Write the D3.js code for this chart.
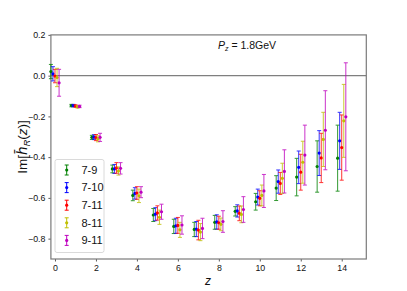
<!DOCTYPE html>
<html><head><meta charset="utf-8">
<script src="https://cdn.jsdelivr.net/npm/d3@7"></script>
<style>body{margin:0;background:#fff}svg{display:block}text{font-family:"Liberation Sans","DejaVu Sans",sans-serif}</style>
</head><body><svg id="c" width="407" height="291"></svg>
<script>
const zs = [0,1,2,3,4,5,6,7,8,9,10,11,12,13,14];
const seriesNames = ["7-9","7-10","7-11","8-11","9-11"];
const seriesColors = ["#008000","#0000ff","#ff0000","#bfbf00","#bf00bf"];
const seriesOffsets = [-0.2,-0.1,0,0.1,0.2];
const v79  = [0.02,-0.147,-0.303,-0.458,-0.588,-0.684,-0.740,-0.755,-0.720,-0.666,-0.619,-0.552,-0.498,-0.446,-0.405];
const e79  = [0.035,0.006,0.010,0.019,0.026,0.032,0.035,0.035,0.034,0.023,0.041,0.061,0.092,0.126,0.162];
const v710 = [0.009,-0.147,-0.302,-0.458,-0.578,-0.680,-0.737,-0.753,-0.718,-0.664,-0.596,-0.520,-0.450,-0.380,-0.320];
const e710 = [0.035,0.006,0.012,0.022,0.028,0.032,0.037,0.037,0.035,0.030,0.039,0.057,0.080,0.110,0.140];
const v711 = [-0.002,-0.149,-0.304,-0.453,-0.576,-0.674,-0.735,-0.758,-0.722,-0.676,-0.602,-0.529,-0.474,-0.404,-0.353];
const e711 = [0.033,0.006,0.015,0.026,0.031,0.035,0.039,0.048,0.032,0.036,0.037,0.054,0.088,0.121,0.160];
const v811 = [-0.009,-0.153,-0.310,-0.468,-0.590,-0.695,-0.757,-0.768,-0.730,-0.681,-0.588,-0.504,-0.425,-0.313,-0.222];
const e811 = [0.045,0.006,0.015,0.020,0.033,0.035,0.037,0.042,0.031,0.041,0.051,0.074,0.103,0.133,0.179];
const v911 = [-0.035,-0.151,-0.303,-0.455,-0.572,-0.668,-0.733,-0.750,-0.716,-0.657,-0.566,-0.470,-0.390,-0.268,-0.202];
const e911 = [0.066,0.006,0.020,0.028,0.027,0.037,0.045,0.050,0.053,0.063,0.081,0.106,0.147,0.194,0.265];
const xTicks = [0,2,4,6,8,10,12,14];
const yTicks = [0.2,0.0,-0.2,-0.4,-0.6,-0.8];

const values = [v79,v710,v711,v811,v911];
const errors = [e79,e710,e711,e811,e911];

const svg = d3.select("#c");
const L=50.9,R=366.3,T=34.9,B=259;
const x = d3.scaleLinear().domain([-0.2,15.2]).range([L,R]);
const y = d3.scaleLinear().domain([-0.9,0.2]).range([B,T]);

// zero line
svg.append("line").attr("x1",L).attr("x2",R).attr("y1",y(0)).attr("y2",y(0))
  .attr("stroke","#7f7f7f").attr("stroke-width",1.4);

const fmtY = d => d3.format(".1f")(d).replace("-","\u2212");
const xAxis = svg.append("g").attr("transform",`translate(0,${B})`)
  .call(d3.axisBottom(x).tickValues(xTicks).tickSize(2.5).tickPadding(3).tickFormat(d3.format("d")));
const yAxis = svg.append("g").attr("transform",`translate(${L},0)`)
  .call(d3.axisLeft(y).tickValues(yTicks).tickSize(2.5).tickPadding(3).tickFormat(fmtY));
[xAxis,yAxis].forEach(g=>{
  g.select(".domain").remove();
  g.selectAll("line").attr("stroke","#333").attr("stroke-width",0.8);
  g.selectAll("text").attr("font-size",8.8).attr("fill","#111")
   .style("font-family","'Liberation Sans','DejaVu Sans',sans-serif");
});

// frame
svg.append("rect").attr("x",L).attr("y",T).attr("width",R-L).attr("height",B-T)
  .attr("fill","none").attr("stroke","#7a7a7a").attr("stroke-width",1.2);

// data
const cap = 2;
values.forEach((vals,si)=>{
  const g = svg.append("g").attr("stroke",seriesColors[si]).attr("fill",seriesColors[si]);
  zs.forEach((z,i)=>{
    const cx = x(z+seriesOffsets[si]);
    const v = vals[i], e = errors[si][i];
    const gg = g.append("g").attr("opacity",0.8);
    gg.append("line").attr("x1",cx).attr("x2",cx).attr("y1",y(v+e)).attr("y2",y(v-e)).attr("stroke-width",1);
    gg.append("line").attr("x1",cx-cap).attr("x2",cx+cap).attr("y1",y(v+e)).attr("y2",y(v+e)).attr("stroke-width",1);
    gg.append("line").attr("x1",cx-cap).attr("x2",cx+cap).attr("y1",y(v-e)).attr("y2",y(v-e)).attr("stroke-width",1);
    g.append("circle").attr("cx",cx).attr("cy",y(v)).attr("r",1.6).attr("stroke","none");
  });
});

// legend
const lg = svg.append("g");
lg.append("rect").attr("x",55).attr("y",159.5).attr("width",49).attr("height",93).attr("rx",2)
  .attr("fill","#fff").attr("fill-opacity",0.8).attr("stroke","#d0d0d0").attr("stroke-width",0.8);
seriesNames.forEach((n,i)=>{
  const cy = 170 + i*17.6, cx = 66.7, c = seriesColors[i];
  lg.append("line").attr("x1",cx).attr("x2",cx).attr("y1",cy-5).attr("y2",cy+5).attr("stroke",c).attr("stroke-width",1);
  lg.append("line").attr("x1",cx-2).attr("x2",cx+2).attr("y1",cy-5).attr("y2",cy-5).attr("stroke",c).attr("stroke-width",1);
  lg.append("line").attr("x1",cx-2).attr("x2",cx+2).attr("y1",cy+5).attr("y2",cy+5).attr("stroke",c).attr("stroke-width",1);
  lg.append("circle").attr("cx",cx).attr("cy",cy).attr("r",1.6).attr("fill",c);
  lg.append("text").attr("x",81.5).attr("y",cy+3.8).attr("font-size",11).attr("fill","#111").text(n);
});

// title
const t = svg.append("text").attr("x",218).attr("y",48.5).attr("font-size",10.5).attr("fill","#111");
t.append("tspan").attr("font-style","italic").text("P");
t.append("tspan").attr("font-size",7).attr("dy",2).attr("font-style","italic").text("z");
t.append("tspan").attr("dy",-2).text(" = 1.8GeV");

// axis labels
svg.append("text").attr("x",208).attr("y",285).attr("text-anchor","middle")
  .attr("font-size",12).attr("font-style","italic").attr("fill","#111").text("z");
const yl = svg.append("text").attr("transform","translate(27,147) rotate(-90)").attr("text-anchor","middle")
  .attr("font-size",13.5).attr("fill","#111");
yl.append("tspan").text("Im[");
yl.append("tspan").attr("font-style","italic").style("font-family","'DejaVu Sans',sans-serif").text("h\u0304");
yl.append("tspan").attr("font-style","italic").attr("font-size",9).attr("dy",2.5).text("R");
yl.append("tspan").attr("dy",-2.5).text("(");
yl.append("tspan").attr("font-style","italic").text("z");
yl.append("tspan").text(")]");
</script></body></html>
